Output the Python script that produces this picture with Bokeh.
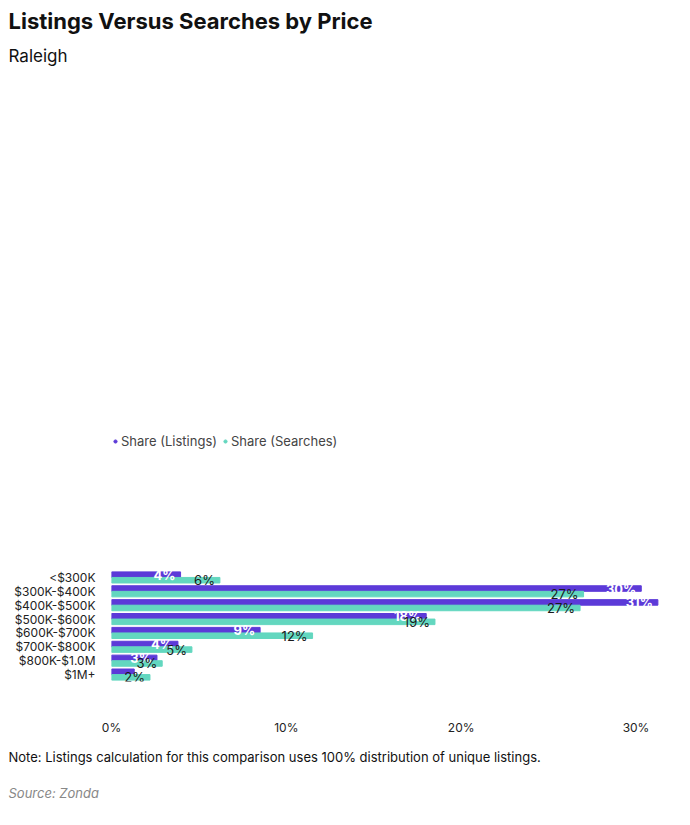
from bokeh.plotting import figure
from bokeh.models import ColumnDataSource, FactorRange, Title, Legend, LegendItem, NumeralTickFormatter, FixedTicker
from bokeh.transform import dodge
from bokeh.core.properties import value
from bokeh.embed import file_html
from bokeh.resources import INLINE

categories = ["<$300K", "$300K-$400K", "$400K-$500K", "$500K-$600K", "$600K-$700K", "$700K-$800K", "$800K-$1.0M", "$1M+"]
listings = [3.95, 30.3, 31.25, 18.0, 8.5, 3.8, 2.6, 1.3]
searches = [6.2, 27.0, 26.8, 18.5, 11.5, 4.6, 2.9, 2.2]
listing_labels = ["4%", "30%", "31%", "18%", "9%", "4%", "3%", ""]
search_labels = ["6%", "27%", "27%", "19%", "12%", "5%", "3%", "2%"]
x_ticks = [0, 10, 20, 30]

PURPLE = "#5C3AD8"
TEAL = "#63D7BF"
FONT = "Inter"

src = ColumnDataSource(dict(cat=categories, l=listings, s=searches, ll=listing_labels, sl=search_labels))

p = figure(width=674, height=809, output_backend="svg", toolbar_location=None,
           y_range=FactorRange(*reversed(categories), range_padding=0),
           x_range=(0, 31.8), min_border_left=111, min_border_right=7,
           min_border_bottom=10, title=None)
p.outline_line_color = None
p.grid.visible = False

p.hbar(y=dodge("cat", 0.2, range=p.y_range), right="l", height=0.4, source=src, color=PURPLE)
p.hbar(y=dodge("cat", -0.2, range=p.y_range), right="s", height=0.4, source=src, color=TEAL)
p.text(x="l", y=dodge("cat", 0.2, range=p.y_range), text="ll", source=src, x_offset=-5,
       text_align="right", text_baseline="middle", text_color="white", text_font=value(FONT),
       text_font_size="13px", text_font_style="bold")
p.text(x="s", y=dodge("cat", -0.2, range=p.y_range), text="sl", source=src, x_offset=-5,
       text_align="right", text_baseline="middle", text_color="#1a1a1a", text_font=value(FONT),
       text_font_size="13px")

p.xaxis.ticker = FixedTicker(ticks=x_ticks)
p.xaxis.formatter = NumeralTickFormatter(format="0")
p.xaxis.major_label_overrides = {t: f"{t}%" for t in x_ticks}
for ax in (p.xaxis, p.yaxis):
    ax.axis_line_color = None
    ax.major_tick_line_color = None
    ax.minor_tick_line_color = None
    ax.major_label_text_font = FONT
    ax.major_label_text_font_size = "12px"
    ax.major_label_text_color = "#222222"
p.xaxis.major_label_standoff = 32
p.yaxis.major_label_standoff = 10

# legend
dl = p.scatter([0], [categories[0]], marker="circle", size=10, color=PURPLE, visible=False)
ds = p.scatter([0], [categories[0]], marker="circle", size=10, color=TEAL, visible=False)
leg = Legend(items=[LegendItem(label="Share (Listings)", renderers=[dl]),
                    LegendItem(label="Share (Searches)", renderers=[ds])],
             orientation="horizontal", location="top_left", label_text_font=FONT,
             label_text_font_size="13px", glyph_width=8, glyph_height=10, spacing=4,
             label_standoff=2, padding=0, margin=0, border_line_color=None,
             background_fill_alpha=0)
leg.margin = 0
p.add_layout(leg, "above")
p.add_layout(Title(text="", text_font_size="16px"), "above")
p.add_layout(Title(text="Raleigh", text_font=FONT, text_font_size="17px", text_font_style="normal",
                   text_color="#111111", offset=-103), "above")
p.add_layout(Title(text="Listings Versus Searches by Price", text_font=FONT, text_font_size="22px",
                   text_font_style="bold", text_color="#111111", offset=-103), "above")
p.legend[0].click_policy = "none"

p.add_layout(Title(text="Note: Listings calculation for this comparison uses 100% distribution of unique listings.",
                   text_font=FONT, text_font_size="13px", text_font_style="normal", text_color="#111111",
                   offset=-103, standoff=18), "below")
p.add_layout(Title(text="Source: Zonda", text_font=FONT, text_font_size="13px", text_font_style="italic",
                   text_color="#888888", offset=-103, standoff=18), "below")

open("out.html", "w").write(file_html(p, INLINE))
